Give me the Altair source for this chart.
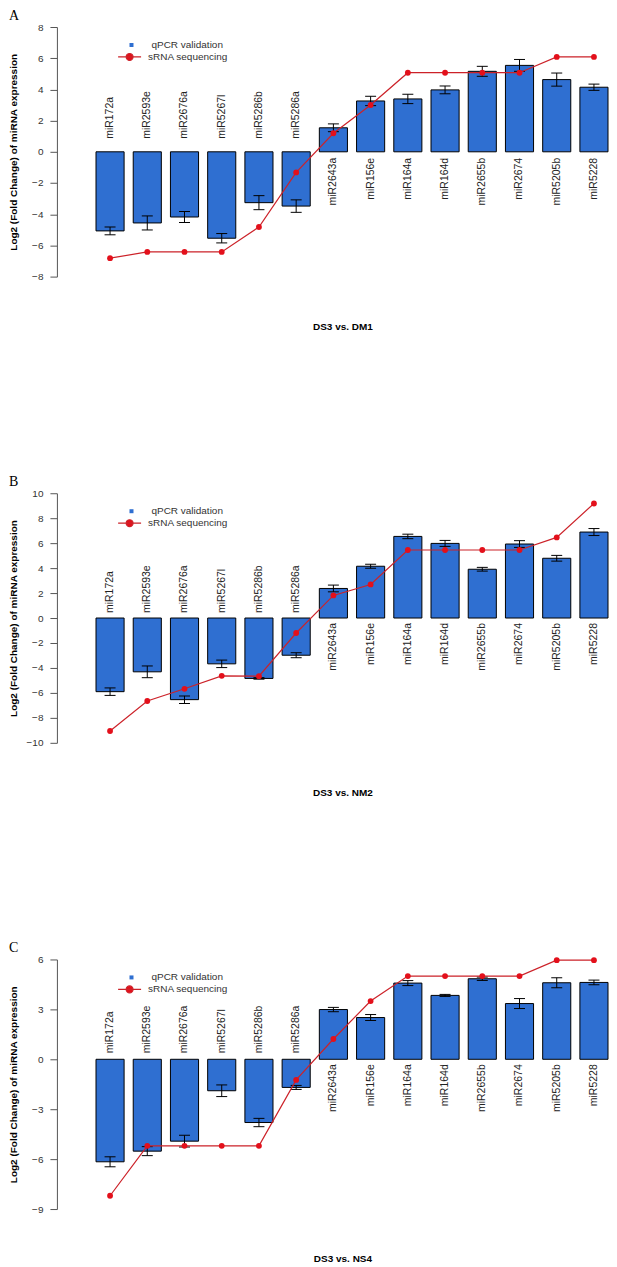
import altair as alt
import pandas as pd

mirnas = ["miR172a", "miR2593e", "miR2676a", "miR5267l", "miR5286b", "miR5286a",
          "miR2643a", "miR156e", "miR164a", "miR164d", "miR2655b", "miR2674",
          "miR5205b", "miR5228"]

# Panel A: DS3 vs. DM1
a_qpcr = [-5.07, -4.56, -4.18, -5.54, -3.26, -3.48, 1.54, 3.26, 3.39, 3.97, 5.16, 5.54, 4.63, 4.14]
a_err = [0.25, 0.45, 0.35, 0.30, 0.45, 0.40, 0.25, 0.30, 0.30, 0.25, 0.32, 0.38, 0.42, 0.20]
a_seq = [-6.82, -6.42, -6.42, -6.42, -4.82, -1.32, 1.19, 3.00, 5.07, 5.07, 5.07, 5.07, 6.08, 6.08]

# Panel B: DS3 vs. NM2
b_qpcr = [-5.90, -4.31, -6.54, -3.67, -4.84, -2.98, 2.37, 4.15, 6.54, 5.98, 3.91, 5.93, 4.79, 6.89]
b_err = [0.30, 0.47, 0.30, 0.30, 0.06, 0.20, 0.27, 0.16, 0.18, 0.24, 0.15, 0.27, 0.23, 0.28]
b_seq = [-9.05, -6.65, -5.67, -4.63, -4.66, -1.20, 1.81, 2.69, 5.45, 5.45, 5.45, 5.45, 6.46, 9.18]

# Panel C: DS3 vs. NS4
c_qpcr = [-6.16, -5.52, -4.92, -1.89, -3.80, -1.69, 2.99, 2.51, 4.58, 3.84, 4.84, 3.35, 4.60, 4.62]
c_err = [0.30, 0.27, 0.35, 0.35, 0.25, 0.12, 0.13, 0.18, 0.15, 0.06, 0.10, 0.30, 0.30, 0.14]
c_seq = [-8.20, -5.20, -5.20, -5.20, -5.20, -1.24, 1.22, 3.50, 5.00, 5.00, 5.00, 5.00, 5.96, 5.96]

letters = ["A", "B", "C"]
comparisons = ["DS3 vs. DM1", "DS3 vs. NM2", "DS3 vs. NS4"]
y_domains = [[-8, 8], [-10, 10], [-9, 6]]
y_ticks = [[-8, -6, -4, -2, 0, 2, 4, 6, 8],
           [-10, -8, -6, -4, -2, 0, 2, 4, 6, 8, 10],
           [-9, -6, -3, 0, 3, 6]]
series_names = ["qPCR validation", "sRNA sequencing"]
y_title = "Log2 (Fold Change) of miRNA expression"

BLUE = "#2f6fd1"
RED_LINE = "#cc2229"
RED_PT = "#e3101b"
FONT = "Liberation Sans"
LINE_DOT_PATH = "M-1,0L1,0M-0.3,0A0.3,0.3,0,1,1,0.3,0A0.3,0.3,0,1,1,-0.3,0Z"

label_gaps = [(13, 6), (5, 5), (6, 5)]


def panel(i, qpcr, err, seq):
    df = pd.DataFrame({"mirna": mirnas, "qpcr": qpcr, "err": err, "seq": seq})
    df["lo"] = df["qpcr"] - df["err"]
    df["hi"] = df["qpcr"] + df["err"]
    df["s1"] = series_names[0]
    df["s2"] = series_names[1]
    base = alt.Chart(df)
    x = alt.X("mirna:N", sort=mirnas,
              scale=alt.Scale(paddingInner=0.245, paddingOuter=0.525, align=1),
              axis=alt.Axis(labels=False, ticks=False, domain=False, title=comparisons[i],
                            titlePadding=45, titleX=286, titleFontWeight="bold",
                            titleFontSize=10, titleFont=FONT, titleColor="black"))
    yscale = alt.Scale(domain=y_domains[i], nice=False, zero=False)
    yaxis = alt.Axis(values=y_ticks[i], title=y_title, grid=False, tickSize=7,
                     labelPadding=7, labelFontSize=10, labelFont=FONT, labelColor="#333",
                     labelOverlap=False, labelBound=False,
                     domainColor="#555", tickColor="#555", titleFont=FONT, titleFontSize=10,
                     titleFontWeight="bold", titleColor="black", titleX=-38)
    y_zero = alt.YDatum(0, type="quantitative", scale=yscale, axis=yaxis)

    bars = base.mark_bar(stroke="black", strokeWidth=1).encode(
        x=x,
        y=alt.Y("qpcr:Q", scale=yscale, axis=yaxis),
        y2=alt.datum(0),
        color=alt.Color("s1:N",
                        scale=alt.Scale(domain=[series_names[0]], range=[BLUE]),
                        legend=alt.Legend(title=None, orient="none", legendX=69.7, legendY=13,
                                          symbolType="square", symbolSize=16,
                                          symbolStrokeWidth=0, labelFont=FONT,
                                          labelFontSize=10, labelColor="#333",
                                          labelOffset=15, padding=0)),
    )
    gneg, gpos = label_gaps[i]
    lab_neg = base.transform_filter("datum.qpcr < 0").mark_text(
        angle=270, align="left", baseline="middle", dx=gneg, font=FONT, fontSize=10.5,
        color="#222").encode(x=x, y=y_zero, text="mirna:N")
    lab_pos = base.transform_filter("datum.qpcr >= 0").mark_text(
        angle=270, align="right", baseline="middle", dx=-gpos, font=FONT, fontSize=10.5,
        color="#222").encode(x=x, y=y_zero, text="mirna:N")
    err_rule = base.mark_rule(color="black", strokeWidth=1).encode(
        x=x, y=alt.Y("lo:Q", scale=yscale, axis=yaxis), y2="hi:Q")
    caps = base.transform_fold(["lo", "hi"], as_=["k", "v"]).mark_tick(
        color="black", thickness=1, size=11, opacity=1).encode(
        x=x, y=alt.Y("v:Q", scale=yscale, axis=yaxis))
    line = base.mark_line(strokeWidth=1.2).encode(
        x=x,
        y=alt.Y("seq:Q", scale=yscale, axis=yaxis),
        stroke=alt.Stroke("s2:N",
                          scale=alt.Scale(domain=[series_names[1]], range=[RED_LINE]),
                          legend=alt.Legend(title=None, orient="none", legendX=60.3,
                                            legendY=17.5, symbolType=LINE_DOT_PATH,
                                            symbolSize=529, symbolStrokeWidth=1.2,
                                            symbolFillColor=RED_PT, labelFont=FONT,
                                            labelFontSize=10, labelColor="#333",
                                            labelOffset=6, padding=0)),
    )
    pts = base.mark_circle(size=34, color=RED_PT, opacity=1).encode(
        x=x, y=alt.Y("seq:Q", scale=yscale, axis=yaxis))

    return alt.layer(bars, lab_neg, lab_pos, err_rule, caps, line, pts).properties(
        width=552, height=250,
        title=alt.Title(letters[i], anchor="start", frame="bounds", font="Liberation Serif",
                        fontSize=14, fontWeight="normal", color="black", offset=-1),
    )


charts = [panel(0, a_qpcr, a_err, a_seq),
          panel(1, b_qpcr, b_err, b_seq),
          panel(2, c_qpcr, c_err, c_seq)]

chart = alt.vconcat(*charts, spacing=144).resolve_scale(
    color="independent", stroke="independent").resolve_legend(
    color="independent", stroke="independent").properties(
    padding=0).configure_view(stroke=None)

chart.save("out.html", embed_options={"renderer": "svg", "actions": False})
